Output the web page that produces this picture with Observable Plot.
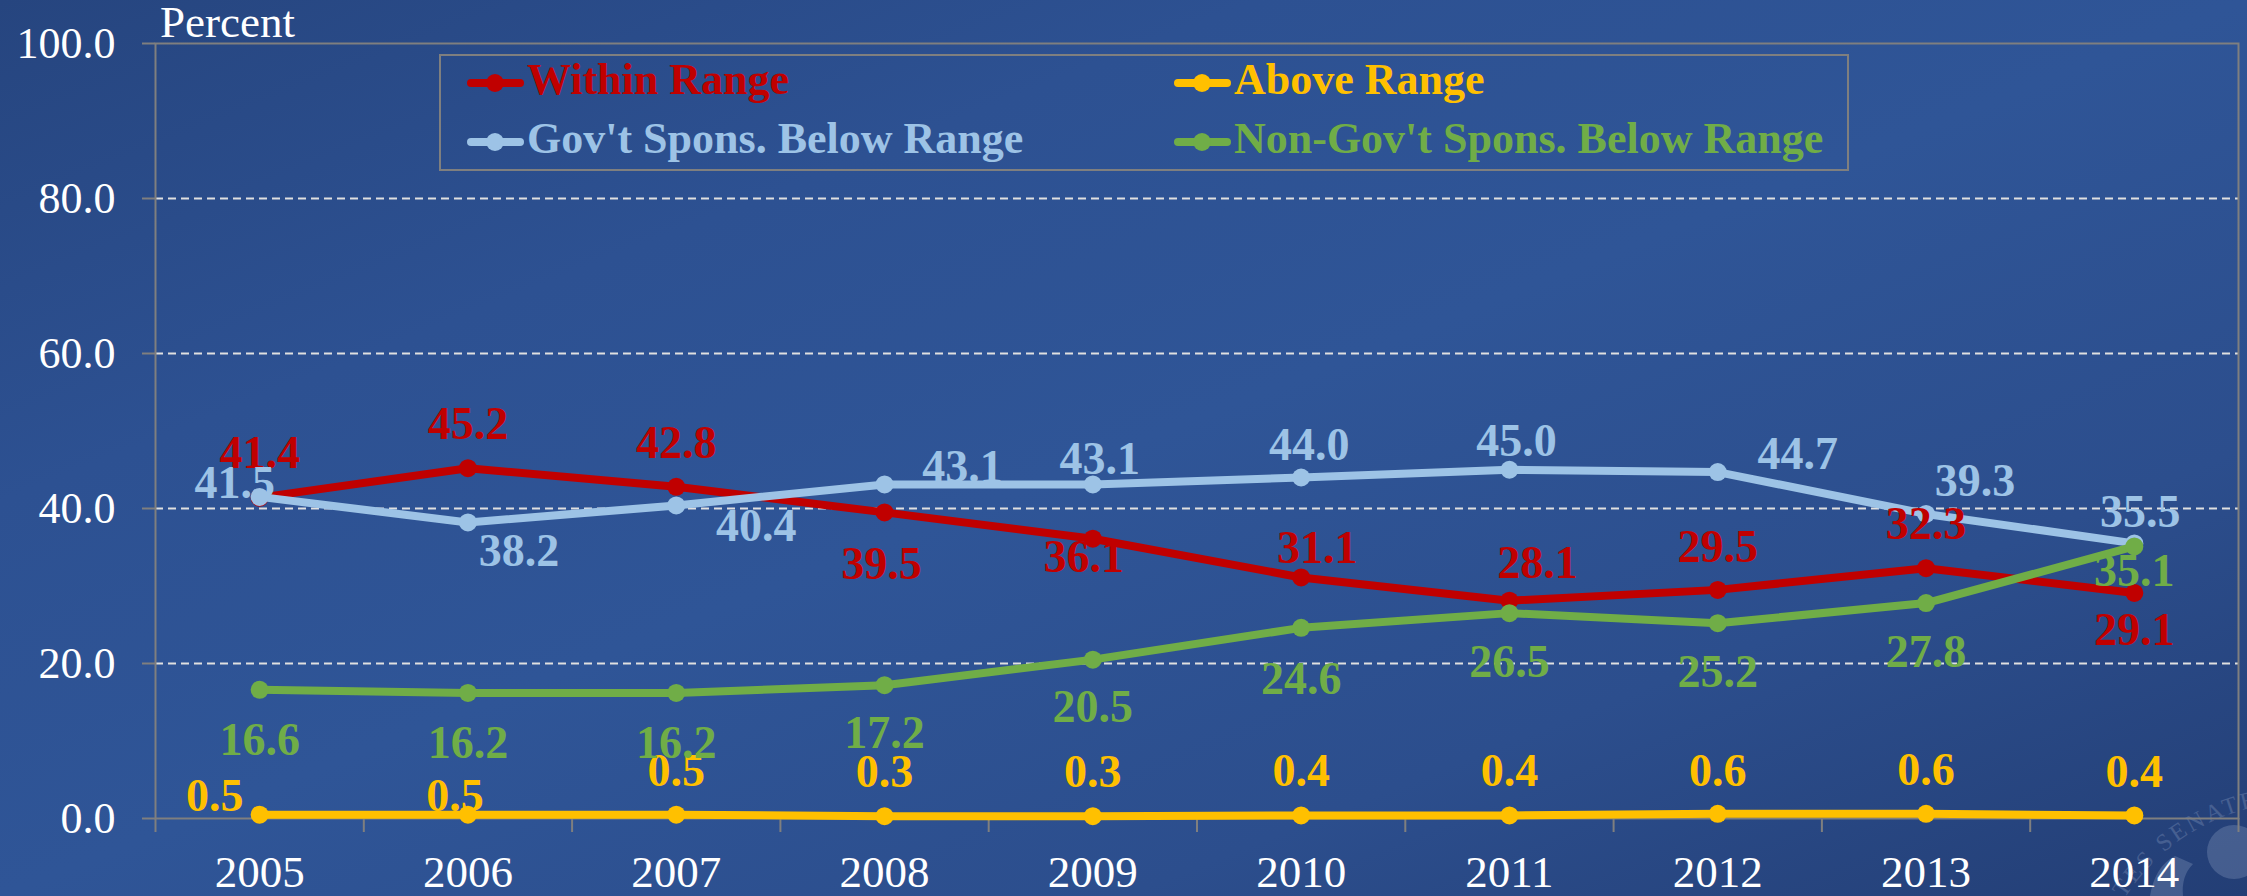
<!DOCTYPE html>
<html>
<head>
<meta charset="utf-8">
<script src="https://cdn.jsdelivr.net/npm/d3@7"></script>
<script src="https://cdn.jsdelivr.net/npm/@observablehq/plot@0.6"></script>
<style>
html, body { margin: 0; padding: 0; }
body {
  width: 2247px; height: 896px; overflow: hidden; position: relative;
  background: linear-gradient(to bottom right, #26457f 0%, #2d5192 28%, #2f5597 50%, #2c4e8d 75%, #233e75 100%);
  font-family: "Liberation Serif", serif;
}
#seal { position: absolute; left: 0; top: 0; }
#chart { position: absolute; left: 0; top: 0; }
#title { position: absolute; left: 160px; top: 0px; font-size: 45px; line-height: 45px; color: #fff; }
#legend { position: absolute; left: 439px; top: 54px; width: 1406px; height: 113px; border: 2px solid #7f7f7f; }
.lg-line { position: absolute; height: 8px; border-radius: 4px; }
.lg-dot { position: absolute; width: 18px; height: 18px; border-radius: 9px; }
.lg-text { position: absolute; font-size: 44px; line-height: 44px; font-weight: bold; white-space: nowrap; }
</style>
</head>
<body>
<svg id="seal" width="2247" height="896">
  <defs><path id="arc" d="M 2300 1218 A 208 208 0 0 1 2092 1010 A 208 208 0 0 1 2508 1010"/></defs>
  <g opacity="0.2" fill="#c9d6ee">
    <text font-family="Liberation Serif" font-size="24" letter-spacing="3"><textPath href="#arc" startOffset="278">UNITED STATES SENATE</textPath></text>
    <circle cx="2234" cy="852" r="27"/>
    <path d="M2150 896 q5 -30 25 -40 l18 8 q-12 12 -10 32 z"/>
  </g>
</svg>
<div id="chart"></div>
<div id="title">Percent</div>
<div id="legend"></div>
<script>
// ---- data ----
const years = [2005, 2006, 2007, 2008, 2009, 2010, 2011, 2012, 2013, 2014];
const withinRange = [41.4, 45.2, 42.8, 39.5, 36.1, 31.1, 28.1, 29.5, 32.3, 29.1];
const aboveRange = [0.5, 0.5, 0.5, 0.3, 0.3, 0.4, 0.4, 0.6, 0.6, 0.4];
const govSponsBelow = [41.5, 38.2, 40.4, 43.1, 43.1, 44.0, 45.0, 44.7, 39.3, 35.5];
const nonGovSponsBelow = [16.6, 16.2, 16.2, 17.2, 20.5, 24.6, 26.5, 25.2, 27.8, 35.1];
const seriesNames = ["Within Range", "Above Range", "Gov't Spons. Below Range", "Non-Gov't Spons. Below Range"];
const yTicks = [0, 20, 40, 60, 80, 100];

// ---- styling ----
const seriesColors = ["#C00000", "#FFC000", "#9DC3E6", "#70AD47"];
const seriesValues = [withinRange, aboveRange, govSponsBelow, nonGovSponsBelow];
// data-label offsets in pixels (dx, dy) per series, per year
const labelDx = [
  [0, 0, 0, -3, -9, 16, 28, 0, 0, 0],
  [-45, -13, 0, 0, 0, 0, 0, 0, 0, 0],
  [-25, 51, 80, 78, 7, 8, 7, 80, 49, 6],
  [0, 0, 0, 0, 0, 0, 0, 0, 0, 0]
];
const labelDy = [
  [-44, -44, -44, 52, 19, -29, -37, -43, -44, 37],
  [-18, -18, -43, -44, -44, -44, -44, -43, -44, -43],
  [-14, 29, 21, -17, -25, -32, -28, -18, -33, -31],
  [50, 50, 50, 48, 48, 51, 49, 49, 49, 25]
];

const rows = seriesNames.flatMap((s, i) => years.map((yr, j) => ({
  series: s, si: i, year: yr, value: seriesValues[i][j], dx: labelDx[i][j], dy: labelDy[i][j]
})));
const boundaries = [...years.map(y => y - 0.5), years[years.length - 1] + 0.5];
const gridTicks = yTicks.filter(t => t > 0 && t < 100);

const seriesMarks = seriesNames.flatMap((s, i) => {
  const d = rows.filter(r => r.si === i);
  return [
    Plot.line(d, {x: "year", y: "value", stroke: seriesColors[i], strokeWidth: 8, strokeLinejoin: "round", strokeLinecap: "round"}),
    Plot.dot(d, {x: "year", y: "value", r: 9, fill: seriesColors[i], stroke: "none"})
  ];
});
const labelMarks = rows.map(r => Plot.text([r], {
  x: "year", y: "value", text: d => d.value.toFixed(1),
  fill: seriesColors[r.si], dx: r.dx, dy: r.dy,
  fontSize: 46, fontWeight: "bold", fontFamily: "Liberation Serif",
  textAnchor: "middle", lineAnchor: "middle"
}));

const chart = Plot.plot({
  width: 2247, height: 896,
  marginLeft: 155, marginRight: 9, marginTop: 43, marginBottom: 78,
  style: {background: "transparent", color: "white", fontFamily: "Liberation Serif", overflow: "visible"},
  x: {type: "linear", domain: [2004.5, 2014.5]},
  y: {domain: [0, 100]},
  marks: [
    Plot.gridY(gridTicks, {stroke: "#e0e0e0", strokeOpacity: 1, strokeWidth: 2, strokeDasharray: "8,5"}),
    Plot.frame({stroke: "#7f7f7f", strokeWidth: 2}),
    Plot.axisY(yTicks, {tickSize: 13, stroke: "#7f7f7f", strokeWidth: 2, tickFormat: () => "", label: null}),
    Plot.axisY(yTicks, {tickSize: 0, tickPadding: 40, fontSize: 44, fill: "white", tickFormat: d => d.toFixed(1), label: null}),
    Plot.axisX(boundaries, {tickSize: 14, stroke: "#7f7f7f", strokeWidth: 2, tickFormat: () => "", label: null}),
    Plot.axisX(years, {tickSize: 0, tickPadding: 37, fontSize: 45, fill: "white", tickFormat: d => String(d), label: null}),
    ...seriesMarks,
    ...labelMarks
  ]
});
document.getElementById("chart").appendChild(chart);

// legend (HTML overlay inside the plot area, positions relative to its box)
const legend = d3.select("#legend");
const cols = [26, 733];   // marker start x relative to box
const rowsY = [27, 86];   // marker center y relative to box
seriesNames.forEach((name, i) => {
  const cx = cols[i % 2], cy = rowsY[Math.floor(i / 2)];
  legend.append("div").attr("class", "lg-line")
    .style("left", cx + "px").style("top", (cy - 4) + "px").style("width", "57px")
    .style("background", seriesColors[i]);
  legend.append("div").attr("class", "lg-dot")
    .style("left", (cx + 19) + "px").style("top", (cy - 9) + "px")
    .style("background", seriesColors[i]);
  legend.append("div").attr("class", "lg-text")
    .style("left", (cx + 60) + "px").style("top", (cy - 25) + "px")
    .style("color", seriesColors[i]).text(name);
});
</script>
</body>
</html>
